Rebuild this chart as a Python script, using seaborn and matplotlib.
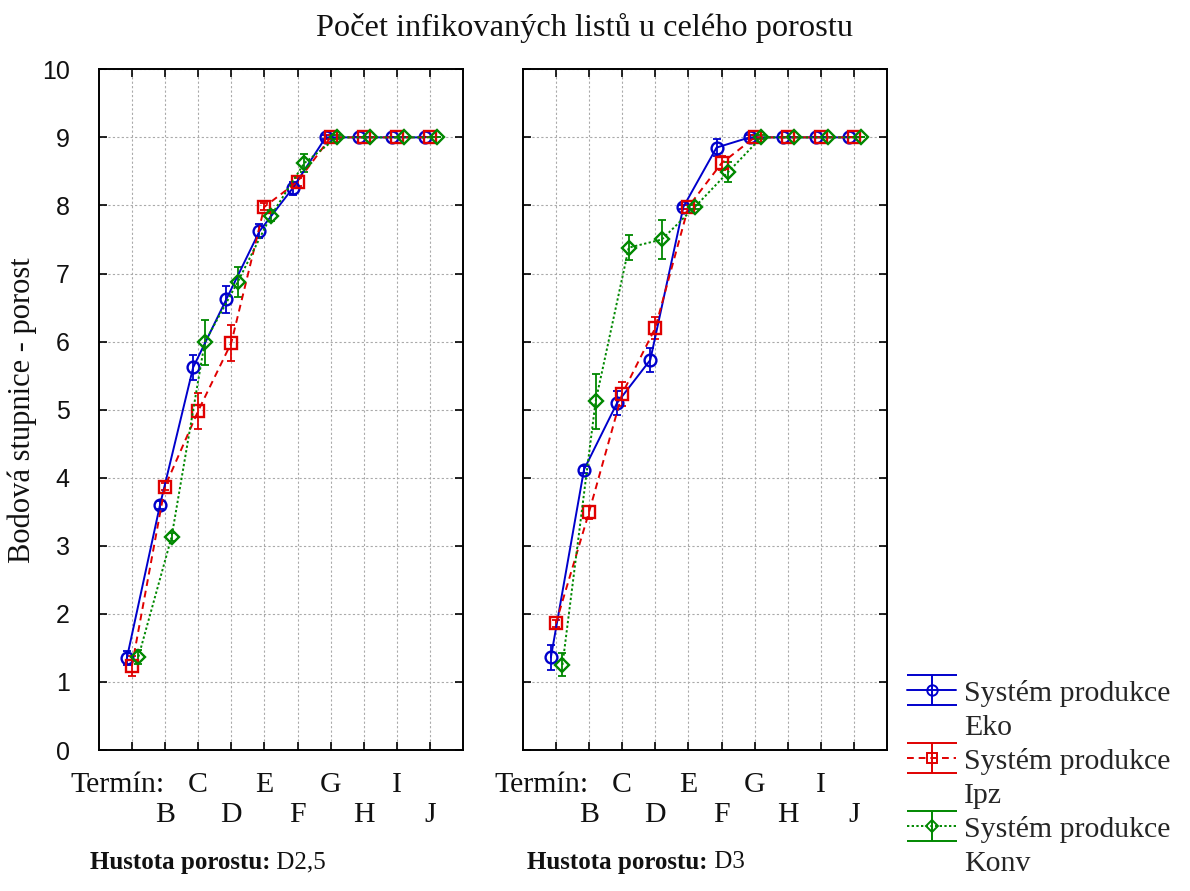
import matplotlib
matplotlib.use("Agg")
import matplotlib.pyplot as plt
from matplotlib.lines import Line2D
import seaborn as sns
import numpy as np

# ---- data ----
terms = ["A", "B", "C", "D", "E", "F", "G", "H", "I", "J"]
tick_labels = ["", "B", "C", "D", "E", "F", "G", "H", "I", "J"]
systems = ["Eko", "Ipz", "Konv"]
panel_titles = ["D2,5", "D3"]

d25_eko = [1.35, 3.60, 5.62, 6.62, 7.62, 8.25, 9.0, 9.0, 9.0, 9.0]
d25_ipz = [1.23, 3.87, 4.98, 5.98, 7.98, 8.35, 9.0, 9.0, 9.0, 9.0]
d25_konv = [1.37, 3.13, 5.99, 6.88, 7.85, 8.62, 9.0, 9.0, 9.0, 9.0]
d25_eko_err = [0.10, 0.06, 0.18, 0.20, 0.10, 0.10, 0.03, 0.0, 0.0, 0.0]
d25_ipz_err = [0.15, 0.05, 0.27, 0.27, 0.05, 0.06, 0.03, 0.0, 0.0, 0.0]
d25_konv_err = [0.10, 0.06, 0.33, 0.22, 0.08, 0.13, 0.03, 0.0, 0.0, 0.0]

d3_eko = [1.36, 4.12, 5.10, 5.73, 7.98, 8.85, 9.0, 9.0, 9.0, 9.0]
d3_ipz = [1.86, 3.49, 5.23, 6.20, 7.98, 8.62, 9.0, 9.0, 9.0, 9.0]
d3_konv = [1.25, 5.12, 7.38, 7.50, 7.98, 8.49, 9.0, 9.0, 9.0, 9.0]
d3_eko_err = [0.18, 0.05, 0.18, 0.18, 0.03, 0.13, 0.03, 0.0, 0.0, 0.0]
d3_ipz_err = [0.05, 0.10, 0.18, 0.16, 0.03, 0.10, 0.03, 0.0, 0.0, 0.0]
d3_konv_err = [0.17, 0.40, 0.18, 0.28, 0.03, 0.15, 0.03, 0.0, 0.0, 0.0]

panels = [
    [(d25_eko, d25_eko_err), (d25_ipz, d25_ipz_err), (d25_konv, d25_konv_err)],
    [(d3_eko, d3_eko_err), (d3_ipz, d3_ipz_err), (d3_konv, d3_konv_err)],
]

# ---- styles ----
colors = {"Eko": "#0000cc", "Ipz": "#e00000", "Konv": "#008800"}
markers = {"Eko": "o", "Ipz": "s", "Konv": "D"}
msizes = {"Eko": 8.5, "Ipz": 8, "Konv": 7}
lstyles = {"Eko": "-", "Ipz": (0, (3.5, 2.5)), "Konv": (0, (1.2, 1.2))}
offsets = {"Eko": -0.15, "Ipz": 0.0, "Konv": 0.2}

sns.set_theme(style="white")
serif = "Liberation Serif"
sans = "Liberation Sans"
plt.rcParams["font.family"] = [serif, "DejaVu Serif"]

FS = 21.5
TXT = "#111111"

fig = plt.figure(figsize=(11.9, 8.91), dpi=100)
W, H = 1190, 891

def fx(px):
    return px / W

def fy(py):
    return 1 - py / H

ax_left = [98.7, 522.7]
ax_w = 364.5
ax_top, ax_bot = 69.3, 750

axes = []
for p in range(2):
    ax = fig.add_axes([fx(ax_left[p]), fy(ax_bot), ax_w / W, (ax_bot - ax_top) / H])
    axes.append(ax)
    for s, (vals, errs) in zip(systems, panels[p]):
        xs = np.arange(len(terms)) + offsets[s]
        c = colors[s]
        ax.errorbar(xs, vals, yerr=errs, fmt="none", ecolor=c, elinewidth=1.3,
                    capsize=3, capthick=1.3, zorder=3)
        sns.lineplot(x=xs, y=vals, ax=ax, color=c, linestyle=lstyles[s],
                     linewidth=1.4, marker=markers[s], markersize=msizes[s],
                     markerfacecolor="none", markeredgecolor=c,
                     markeredgewidth=1.7, errorbar=None, zorder=4)
    ax.set_xlim(-1, 10)
    ax.set_ylim(0, 10)
    ax.set_xticks(np.arange(len(terms)))
    ax.set_xticklabels([])
    ax.set_yticks(np.arange(0, 11, 1))
    ax.grid(True, linestyle=(0, (2, 2)), color="#aaaaaa", linewidth=0.8)
    ax.set_axisbelow(True)
    for sp in ax.spines.values():
        sp.set_color("black")
        sp.set_linewidth(1.4)
        sp.set_visible(True)
    ax.tick_params(direction="in", length=6, width=1.2, color="black",
                   top=True, right=True, bottom=True, left=True)
    ax.set_xlabel("")
    ax.set_ylabel("")
    if p == 0:
        ax.set_yticklabels([str(v) for v in range(11)], fontfamily=sans,
                           fontsize=18, color=TXT)
        ax.tick_params(axis="y", pad=21)
    else:
        ax.set_yticklabels([])
    # staggered category labels
    trans = ax.get_xaxis_transform()
    for i, lab in enumerate(tick_labels):
        if not lab:
            continue
        yy = -0.052 if i % 2 == 0 else -0.096
        ax.text(i, yy, lab, transform=trans, ha="center", va="center",
                fontsize=FS, fontfamily=serif, color=TXT)
    ax.text(1.0, -0.052, "Termín:", transform=trans, ha="right", va="center",
            fontsize=FS, fontfamily=serif, color=TXT)

# panel captions
for p, txt in enumerate(panel_titles):
    x0 = [90, 527][p]
    t1 = fig.text(fx(x0), fy(862), "Hustota porostu:", fontweight="bold",
                  fontsize=18, fontfamily=serif, ha="left", va="center", color=TXT)
    axes[p].annotate(" " + txt, xy=(1, 0.5), xycoords=t1, ha="left", va="center",
                     fontsize=18, fontfamily=serif, color=TXT,
                     annotation_clip=False)

# title and y label
fig.text(fx(585), fy(28), "Počet infikovaných listů u celého porostu",
         ha="center", va="center", fontsize=23.3, fontfamily=serif, color=TXT)
fig.text(fx(22), fy(410), "Bodová stupnice - porost", rotation=90,
         ha="center", va="center", fontsize=22, fontfamily=serif, color=TXT)

# legend proxies on hidden axes
hax = fig.add_axes([0, 0, 0.01, 0.01])
hax.set_axis_off()
handles = []
labels = []
for s in systems:
    c = colors[s]
    h = hax.errorbar([0], [0], yerr=[1], color=c, ecolor=c, linestyle=lstyles[s],
                     linewidth=1.4, marker=markers[s], markersize=msizes[s] - 1,
                     markerfacecolor="none", markeredgecolor=c, markeredgewidth=1.4,
                     capsize=18, capthick=1.4, elinewidth=1.4)
    handles.append(h)
    labels.append("Systém produkce")
    handles.append(Line2D([], [], linestyle="none", marker=None))
    labels.append(s)
hax.set_visible(False)
fig.legend(handles, labels, loc="upper left", bbox_to_anchor=(fx(907), fy(679)),
           frameon=False, prop={"family": serif, "size": FS},
           handlelength=1.65, handleheight=0.8, handletextpad=0.25,
           labelspacing=0.21, borderaxespad=0, borderpad=0)

fig.savefig("out.png", dpi=100)
